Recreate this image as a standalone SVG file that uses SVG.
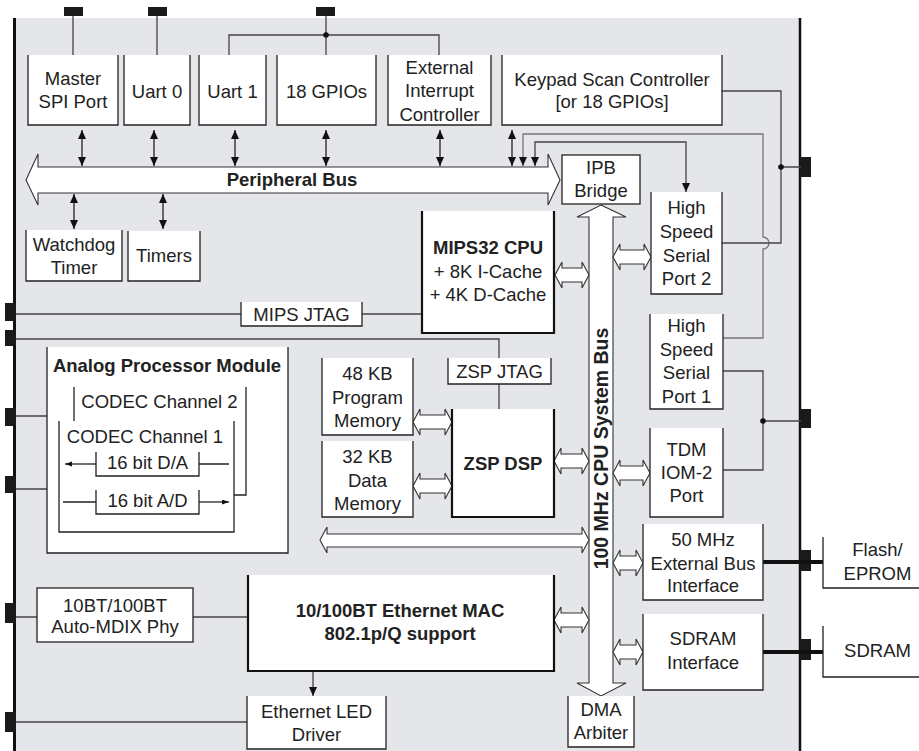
<svg xmlns="http://www.w3.org/2000/svg" width="919" height="751" viewBox="0 0 919 751">
<style>
text{font-family:"Liberation Sans",Arial,sans-serif;font-size:18.5px;fill:#222;text-anchor:middle}
.bd{font-weight:bold}
.b{fill:#fff;stroke:#222;stroke-width:1.3}
.bt{fill:#fff;stroke:#111;stroke-width:2.2}
.c{fill:none;stroke:#444;stroke-width:1.3}
.cg{fill:none;stroke:#777;stroke-width:1.3}
.th{fill:none;stroke:#111;stroke-width:4}
.pin{fill:#1a1a1a}
.ha{fill:#fff;stroke:#333;stroke-width:1.1}
.da{fill:none;stroke:#222;stroke-width:1.3;marker-start:url(#ah);marker-end:url(#ah)}
</style>
<defs>
<marker id="ah" markerUnits="userSpaceOnUse" markerWidth="10" markerHeight="10" refX="9" refY="4" orient="auto-start-reverse"><path d="M0,0 L9,4 L0,8 Z" fill="#111"/></marker>
<marker id="as" markerUnits="userSpaceOnUse" markerWidth="8" markerHeight="6" refX="7" refY="2.5" orient="auto-start-reverse"><path d="M0,0 L7,2.5 L0,5 Z" fill="#111"/></marker>
</defs>
<rect x="14" y="18" width="786" height="733" fill="#e5e6ea"/>
<path d="M14.5,18 V751" stroke="#111" stroke-width="3"/>
<path d="M800,18 V751" stroke="#111" stroke-width="2.5"/>
<g id="pins">
<rect class="pin" x="64" y="7" width="19" height="9"/>
<rect class="pin" x="148" y="7" width="19" height="9"/>
<rect class="pin" x="316" y="7" width="19" height="9"/>
<rect class="pin" x="5" y="303" width="11" height="18"/>
<rect class="pin" x="5" y="330" width="11" height="16"/>
<rect class="pin" x="5" y="408" width="11" height="18"/>
<rect class="pin" x="5" y="476" width="11" height="17"/>
<rect class="pin" x="5" y="603" width="11" height="20"/>
<rect class="pin" x="5" y="712" width="11" height="20"/>
<rect class="pin" x="800" y="157" width="11" height="20"/>
<rect class="pin" x="800" y="409" width="11" height="19"/>
<rect class="pin" x="800" y="550" width="11" height="21"/>
<rect class="pin" x="800" y="639" width="11" height="21"/>
</g>
<g id="connectors">
<path class="c" d="M73,16 V55 M157,16 V55 M326,16 V55 M229,55 V35 H439 V55"/>
<circle cx="326" cy="35" r="2.8" fill="#111"/>
<path class="da" d="M82,130 V166"/>
<path class="da" d="M154,130 V166"/>
<path class="da" d="M235,130 V166"/>
<path class="da" d="M326,130 V166"/>
<path class="da" d="M440,130 V166"/>
<path class="da" d="M512,130 V166"/>
<path class="cg" d="M722,338 H763 V249 A6,6 0 0 0 763,237 V134 H523 V166" marker-end="url(#ah)"/>
<path class="c" d="M535,166 V142 H686 V192" marker-start="url(#ah)" marker-end="url(#ah)"/>
<path class="c" d="M722,91 H781 V243 H722 M781,167 H801"/>
<circle cx="781" cy="167" r="2.8" fill="#111"/>
<path class="c" d="M722,371 H763 V470 H722 M763,421 H801"/>
<circle cx="763" cy="421" r="2.8" fill="#111"/>
<path class="th" d="M763,562 H823 M763,652 H823"/>
<path class="da" d="M74,194 V229"/>
<path class="da" d="M163,194 V229"/>
<path class="c" d="M16,314 H241 M362,314 H422"/>
<path class="c" d="M16,339 H499 V358 M499,384 V409"/>
<path class="c" d="M16,416 H47 M16,489 H47"/>
<path class="c" d="M16,617 H37 M193,617 H248"/>
<path class="c" d="M16,722 H247"/>
<path class="c" d="M313,671 V696" marker-end="url(#ah)"/>
<polygon class="ha" points="26,180 38,154 38,167 548,167 548,154 560,180 548,205 548,193 38,193 38,205"/>
<polygon class="ha" points="601,205 626,217 613,217 613,683 626,683 601,696 577,683 589,683 589,217 577,217"/>
<polygon class="ha" points="555,275 562,262 562,268 582,268 582,262 589,275 582,288 582,282 562,282 562,288"/>
<polygon class="ha" points="613,257 620,244 620,250 644,250 644,244 651,257 644,270 644,264 620,264 620,270"/>
<polygon class="ha" points="413,422 420,409 420,415 445,415 445,409 452,422 445,435 445,429 420,429 420,435"/>
<polygon class="ha" points="413,486 420,473 420,479 445,479 445,473 452,486 445,499 445,493 420,493 420,499"/>
<polygon class="ha" points="554,461 561,448 561,454 582,454 582,448 589,461 582,474 582,468 561,468 561,474"/>
<polygon class="ha" points="613,473 620,460 620,466 643,466 643,460 650,473 643,486 643,480 620,480 620,486"/>
<polygon class="ha" points="320,540 327,527 327,534 582,534 582,527 589,540 582,553 582,547 327,547 327,553"/>
<polygon class="ha" points="613,563 620,550 620,556 636,556 636,550 643,563 636,576 636,570 620,570 620,576"/>
<polygon class="ha" points="613,652 620,639 620,645 636,645 636,639 643,652 636,665 636,659 620,659 620,665"/>
<polygon class="ha" points="554,620 561,607 561,613 582,613 582,607 589,620 582,633 582,627 561,627 561,633"/>
</g>
<text class="bd" x="292" y="186">Peripheral Bus</text>
<text class="bd" transform="translate(608,448.5) rotate(-90)" x="0" y="0" style="font-size:19.5px">100 MHz CPU System Bus</text>
<g id="master-spi"><path class="b" d="M28,55 V125 H118 V55"/><text x="73" y="85">Master</text><text x="73" y="107.5">SPI Port</text></g>
<g id="uart0"><path class="b" d="M124,55 V125 H190 V55"/><text x="157" y="97.5">Uart 0</text></g>
<g id="uart1"><path class="b" d="M199,55 V125 H266 V55"/><text x="232.5" y="97.5">Uart 1</text></g>
<g id="gpios"><path class="b" d="M277,55 V125 H376 V55"/><text x="326.5" y="97.5">18 GPIOs</text></g>
<g id="ext-int"><path class="b" d="M388,55 V125 H491 V55"/><text x="439.5" y="74">External</text><text x="439.5" y="97">Interrupt</text><text x="439.5" y="120.5">Controller</text></g>
<g id="keypad"><path class="b" d="M502,55 V125 H722 V55"/><text x="612" y="85.5">Keypad Scan Controller</text><text x="612" y="108">[or 18 GPIOs]</text></g>
<g id="ipb"><rect class="b" x="562" y="155" width="78" height="49"/><text x="601" y="173.5">IPB</text><text x="601" y="196.5">Bridge</text></g>
<g id="hssp2"><path class="b" d="M651,192 V294 H722 V192"/><text x="686.5" y="213.5">High</text><text x="686.5" y="237.5">Speed</text><text x="686.5" y="261.5">Serial</text><text x="686.5" y="285">Port 2</text></g>
<g id="hssp1"><path class="b" d="M650,314 V409 H723 V314"/><text x="686.5" y="332">High</text><text x="686.5" y="355.5">Speed</text><text x="686.5" y="378.5">Serial</text><text x="686.5" y="402.5">Port 1</text></g>
<g id="tdm"><path class="b" d="M650,428 V517 H723 V428"/><text x="686.5" y="455.5">TDM</text><text x="686.5" y="478.5">IOM-2</text><text x="686.5" y="502">Port</text></g>
<g id="watchdog"><path class="b" d="M26,230 V281 H122 V230"/><text x="74" y="250.5">Watchdog</text><text x="74" y="273.5">Timer</text></g>
<g id="timers"><path class="b" d="M128,231 V281 H200 V231"/><text x="164" y="262">Timers</text></g>
<g id="mips-jtag"><path class="b" d="M241,302 V326 H362 V302"/><text x="301.5" y="320.5">MIPS JTAG</text></g>
<g id="mips-cpu"><path class="bt" d="M422,211 V333 H554 V211"/><text class="bd" x="488" y="253.5">MIPS32 CPU</text><text x="488" y="277.5">+ 8K I-Cache</text><text x="488" y="301">+ 4K D-Cache</text></g>
<g id="analog"><path class="b" d="M47,347 V553 H288 V347"/><text class="bd" x="167" y="372">Analog Processor Module</text>
<path class="c" style="stroke:#222" d="M74,387 V421 M246,387 V495 H234"/><text x="159.5" y="408">CODEC Channel 2</text>
<path class="c" style="stroke:#222" d="M59,421 V532 H234 V421"/><text x="145" y="443">CODEC Channel 1</text>
<path class="b" d="M96,452 V476 H199 V452"/><text x="147.5" y="469">16 bit D/A</text>
<path class="b" d="M96,490 V514 H199 V490"/><text x="147.5" y="507">16 bit A/D</text>
<path class="c" style="stroke:#222" d="M96,464 H65" marker-end="url(#as)"/>
<path class="c" style="stroke:#222" d="M199,464 H229 M63,502 H96"/>
<path class="c" style="stroke:#222" d="M199,502 H229" marker-end="url(#as)"/></g>
<g id="prog-mem"><path class="b" d="M322,358 V435 H413 V358"/><text x="367.5" y="379.5">48 KB</text><text x="367.5" y="403.5">Program</text><text x="367.5" y="427">Memory</text></g>
<g id="data-mem"><path class="b" d="M322,441 V517 H413 V441"/><text x="367.5" y="463">32 KB</text><text x="367.5" y="486.5">Data</text><text x="367.5" y="510">Memory</text></g>
<g id="zsp-jtag"><path class="b" d="M448,358 V384 H551 V358"/><text x="499.5" y="377.5">ZSP JTAG</text></g>
<g id="zsp-dsp"><path class="bt" d="M452,409 V517 H554 V409"/><text class="bd" x="503" y="470">ZSP DSP</text></g>
<g id="phy"><rect class="b" x="37" y="588" width="156" height="54"/><text x="115" y="612">10BT/100BT</text><text x="115" y="633">Auto-MDIX Phy</text></g>
<g id="mac"><path class="bt" d="M248,575 V671 H554 V575"/><text class="bd" x="400" y="616.5">10/100BT Ethernet MAC</text><text class="bd" x="400" y="640">802.1p/Q support</text></g>
<g id="led"><path class="b" d="M247,696 V749 H386 V696"/><text x="316.5" y="718">Ethernet LED</text><text x="316.5" y="740.5">Driver</text></g>
<g id="dma"><path class="b" d="M568,696 V747 H634 V696"/><text x="601" y="716">DMA</text><text x="601" y="739">Arbiter</text></g>
<g id="ext-bus"><path class="b" d="M643,524 V600 H763 V524"/><text x="703" y="545.5">50 MHz</text><text x="703" y="569.5">External Bus</text><text x="703" y="591.5">Interface</text></g>
<g id="sdram-if"><path class="b" d="M643,614 V690 H763 V614"/><text x="703" y="645">SDRAM</text><text x="703" y="669">Interface</text></g>
<g id="flash"><path class="b" d="M823,537 V588 H920"/><text x="877.5" y="556">Flash/</text><text x="877.5" y="580">EPROM</text></g>
<g id="sdram"><path class="b" d="M823,626 V677 H920"/><text x="877.5" y="657">SDRAM</text></g>
</svg>
